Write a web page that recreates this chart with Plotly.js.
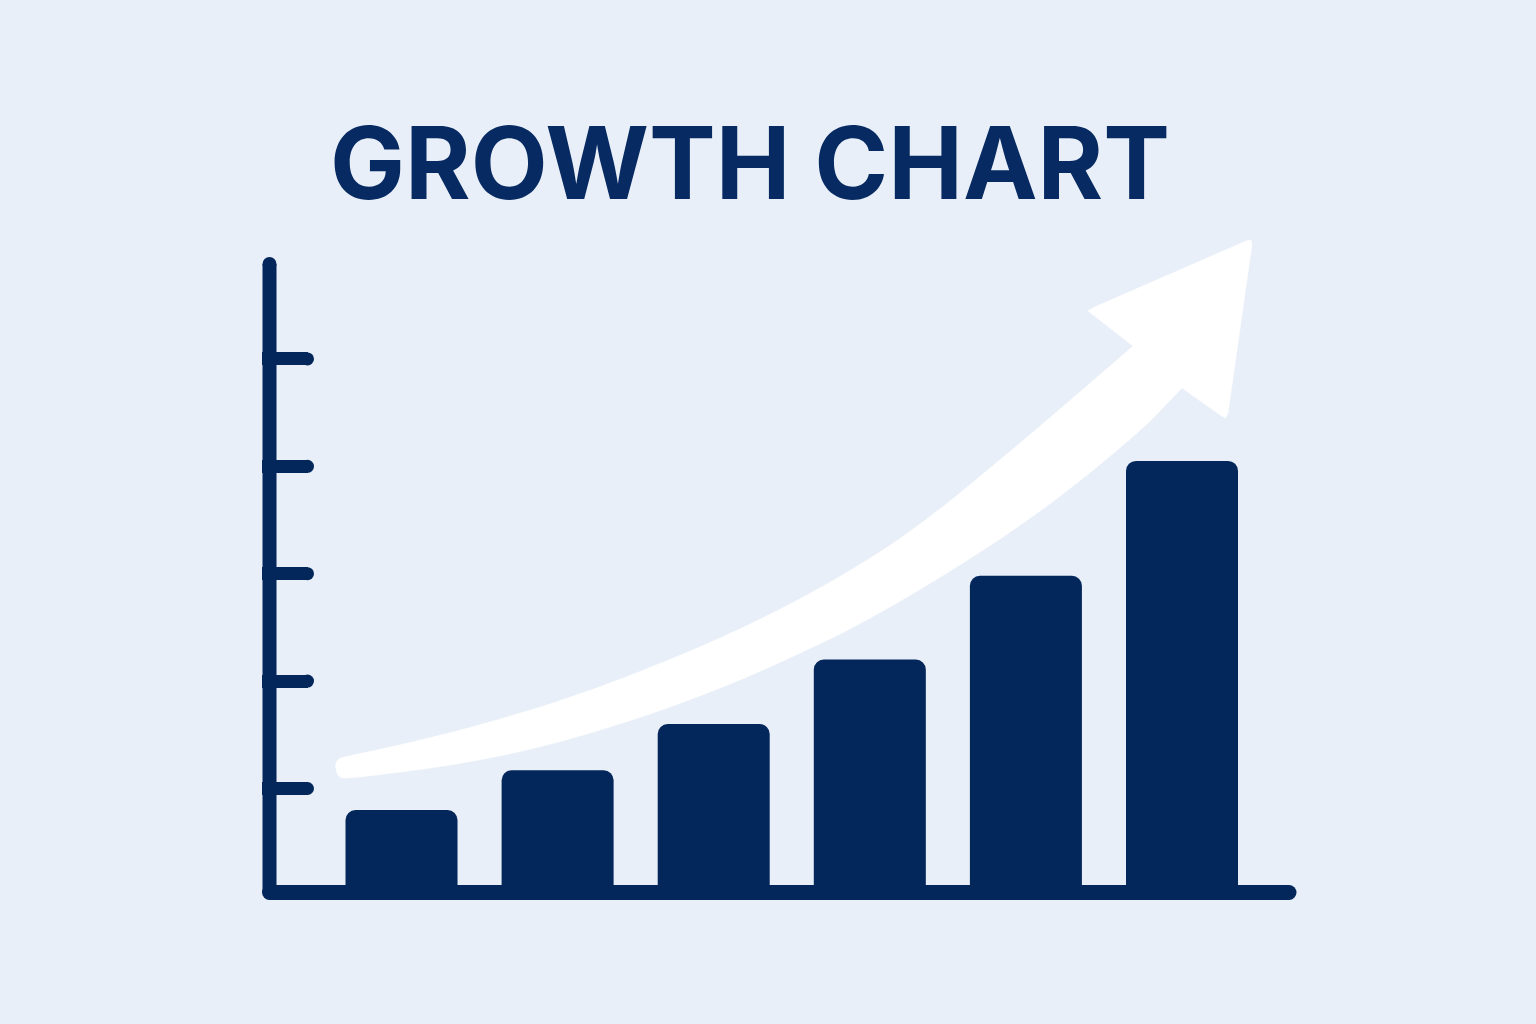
<!DOCTYPE html>
<html>
<head>
<meta charset="utf-8">
<script src="https://cdn.plot.ly/plotly-3.0.1.min.js"></script>
<style>
  html, body { margin: 0; padding: 0; background: #E8EFF8; }
  #chart { width: 1536px; height: 1024px; }
</style>
</head>
<body>
<div id="chart"></div>
<script>
// ---- data (in chart units: one y unit = one tick step) ----
const periods = [1, 2, 3, 4, 5, 6];
const values = [0.80, 1.17, 1.60, 2.20, 2.98, 4.05];
const tickValues = [1, 2, 3, 4, 5];
const titleText = "GROWTH CHART";

// trend arrow: curved band (rounded tail -> upper edge -> lower edge back)
const bandX = [0.5772, 0.5836, 0.6060, 0.6381, 0.9584, 1.2787, 1.5990, 1.9193, 2.2396, 2.5599, 2.8802,
               3.2005, 3.5208, 3.8411, 4.1614, 4.4817, 4.8020, 5.1223, 5.4426, 5.6861, 5.8911,
               6.1473, 6.0000, 5.7757, 5.4554, 5.1351, 4.8148, 4.4945, 4.1742, 3.8539, 3.5336,
               3.2133, 2.8930, 2.5727, 2.2524, 1.9321, 1.6118, 1.2915, 0.9712, 0.6509, 0.6124, 0.5868];
const bandY = [1.1909, 1.2467, 1.2793, 1.2933, 1.3957, 1.5075, 1.6331, 1.7728, 1.9311, 2.1080, 2.2989,
               2.5084, 2.7412, 3.0019, 3.2952, 3.6397, 4.0214, 4.4125, 4.8129, 5.1201, 5.3901,
               4.9432, 4.7291, 4.3939, 3.9935, 3.6304, 3.3045, 3.0065, 2.7272, 2.4711, 2.2477,
               2.0382, 1.8520, 1.6843, 1.5354, 1.4050, 1.2980, 1.2142, 1.1490, 1.0978, 1.1024, 1.1350];
// trend arrow: head
const headX = [5.686, 5.430, 5.398, 5.436, 6.414, 6.442, 6.448, 6.295, 6.279, 6.252, 6.000];
const headY = [5.120, 5.413, 5.446, 5.481, 6.100, 6.107, 6.061, 4.496, 4.450, 4.470, 4.729];

// axis geometry in chart units
const xRange = [0.1063, 6.7559];
const yRange = [-0.0847, 6.2002];
const yAxisX = 0.1544;      // centre of vertical axis stroke
const yAxisTop = 5.884;
const xAxisEndX = 6.6855;
const xAxisY = 0.0317;      // centre of horizontal axis stroke
const tickEndX = 0.3978;

const navy = "#03265B";

const traces = [
  {
    type: "scatter", mode: "lines", x: bandX, y: bandY,
    fill: "toself", fillcolor: "#FFFFFF",
    line: { color: "#FFFFFF", width: 0.5, shape: "spline", smoothing: 0.8 },
    hoverinfo: "skip", showlegend: false
  },
  {
    type: "scatter", mode: "lines", x: headX, y: headY,
    fill: "toself", fillcolor: "#FFFFFF",
    line: { color: "#FFFFFF", width: 0.5 },
    hoverinfo: "skip", showlegend: false
  },
  {
    type: "bar", x: periods, y: values, width: 0.7175,
    marker: { color: navy, cornerradius: 10, line: { width: 0 } },
    hoverinfo: "skip", showlegend: false
  },
  {
    // vertical axis stroke
    type: "scatter", mode: "lines", x: [yAxisX, yAxisX], y: [xAxisY, yAxisTop],
    line: { color: navy, width: 14 },
    hoverinfo: "skip", showlegend: false
  },
  {
    // horizontal axis stroke
    type: "scatter", mode: "lines", x: [yAxisX, xAxisEndX], y: [xAxisY, xAxisY],
    line: { color: navy, width: 15 },
    hoverinfo: "skip", showlegend: false
  },
  {
    // rounded caps and corner
    type: "scatter", mode: "markers", cliponaxis: false,
    x: [yAxisX, xAxisEndX, yAxisX].concat(tickValues.map(() => tickEndX)),
    y: [yAxisTop, xAxisY, xAxisY].concat(tickValues),
    marker: { color: navy, opacity: 1, size: [14, 15, 15].concat(tickValues.map(() => 13)), line: { width: 0 } },
    hoverinfo: "skip", showlegend: false
  }
];

const layout = {
  width: 1536, height: 1024,
  paper_bgcolor: "#E8EFF8",
  plot_bgcolor: "rgba(0,0,0,0)",
  margin: { l: 262, r: 236, t: 230, b: 119, pad: 0 },
  showlegend: false,
  title: {
    text: titleText,
    x: 0.4883, xref: "container", xanchor: "center",
    y: 0.8398, yref: "container", yanchor: "middle",
    font: { family: "Inter, 'Liberation Sans', Arial, sans-serif", size: 100, weight: 700, color: "#062A61" }
  },
  xaxis: {
    range: xRange, showgrid: false, zeroline: false, showticklabels: false,
    ticks: "", showline: false, fixedrange: true
  },
  yaxis: {
    range: yRange, showgrid: false, zeroline: false, showticklabels: false,
    showline: false, ticks: "inside", tickmode: "array", tickvals: tickValues,
    ticklen: 46, tickwidth: 13, tickcolor: navy, fixedrange: true
  },
  bargap: 0.28
};

Plotly.newPlot("chart", traces, layout, { staticPlot: true, displayModeBar: false });
</script>
</body>
</html>
